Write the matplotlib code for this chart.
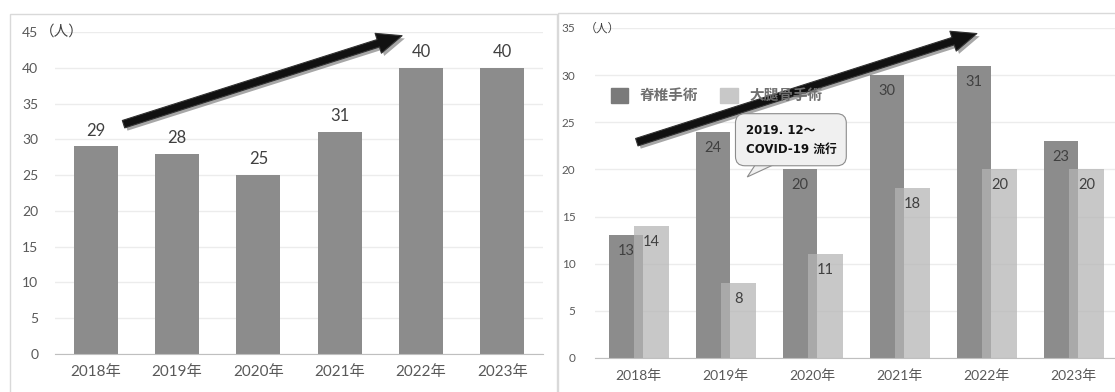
import numpy as np
import matplotlib.pyplot as plt
from matplotlib import patches
from matplotlib import patheffects as pe

plt.rcParams['font.family'] = ['Lato', 'Noto Sans CJK JP', 'DejaVu Sans']

# データ
years = ['2018年', '2019年', '2020年', '2021年', '2022年', '2023年']
total = [29, 28, 25, 31, 40, 40]
spine = [13, 24, 20, 30, 31, 23]   # 脊椎手術
femur = [14, 8, 11, 18, 20, 20]    # 大腿骨手術
left_yticks = list(range(0, 50, 5))
right_yticks = list(range(0, 40, 5))

tick_col = '#595959'
grid_col = '#ececec'
x = np.arange(len(years))

fig = plt.figure(figsize=(11.15, 3.92), dpi=100)

# パネルの枠
W, H = 1115, 392
fig.patches.append(patches.Rectangle((10 / W, -0.05), 547 / W, 1 - 14 / H + 0.05,
                                     transform=fig.transFigure, fill=False,
                                     ec='#d9d9d9', lw=1))
fig.patches.append(patches.Rectangle((558 / W, -0.05), 600 / W, 1 - 13 / H + 0.05,
                                     transform=fig.transFigure, fill=False,
                                     ec='#d9d9d9', lw=1))

# ---- 左: 合計 ----
ax1 = fig.add_axes([55 / W, 1 - 354 / H, 488 / W, 322 / H])
ax1.bar(x, total, width=0.54, color='#8c8c8c', zorder=2)
for xi, v in zip(x, total):
    ax1.annotate(str(v), (xi, v), xytext=(0, 11.5), textcoords='offset points',
                 ha='center', va='center', fontsize=12, color='#404040')
ax1.set_xlim(-0.5, 5.5)
ax1.set_ylim(0, 45)
ax1.set_yticks(left_yticks)
ax1.set_xticks(x)
ax1.set_xticklabels(years, fontsize=11, color=tick_col)
ax1.tick_params(axis='y', labelsize=10, labelcolor=tick_col, length=0, pad=12)
ax1.tick_params(axis='x', length=0, pad=8)
ax1.grid(axis='y', color=grid_col, lw=1, zorder=0)
ax1.set_axisbelow(True)
for s in ['top', 'right', 'left']:
    ax1.spines[s].set_visible(False)
ax1.spines['bottom'].set_color('#bfbfbf')
ax1.text(-0.69, 45, '（人）', fontsize=10.5, color='#404040', va='center', ha='left')

arrow_fx = [pe.SimplePatchShadow(offset=(2, -2), alpha=0.35), pe.Normal()]
ax1.annotate('', xy=(3.8, 44.6), xytext=(0.31, 32.0),
             arrowprops=dict(arrowstyle='simple,head_length=0.9,head_width=0.75,tail_width=0.28',
                             fc='#111111', ec='#333333', lw=0.8, mutation_scale=20,
                             path_effects=arrow_fx), zorder=5)

# ---- 右: 手術別 ----
ax2 = fig.add_axes([595 / W, 1 - 358 / H, 522 / W, 330 / H])
ax2.bar(x - 0.146, spine, width=0.385, color='#8c8c8c', zorder=2)
ax2.bar(x + 0.149, femur, width=0.395, color='#b4b4b4', alpha=0.73, zorder=3)
for xi, v in zip(x, spine):
    ax2.annotate(str(v), (xi - 0.146, v), xytext=(0, -11.5), textcoords='offset points',
                 ha='center', va='center', fontsize=10.5, color='#404040', zorder=6)
for xi, v in zip(x, femur):
    ax2.annotate(str(v), (xi + 0.149, v), xytext=(0, -11.5), textcoords='offset points',
                 ha='center', va='center', fontsize=10.5, color='#404040', zorder=6)
ax2.set_xlim(-0.5, 5.5)
ax2.set_ylim(0, 35)
ax2.set_yticks(right_yticks)
ax2.set_xticks(x)
ax2.set_xticklabels(years, fontsize=10, color=tick_col)
ax2.tick_params(axis='y', labelsize=8.5, labelcolor=tick_col, length=0, pad=14)
ax2.tick_params(axis='x', length=0, pad=8)
ax2.grid(axis='y', color=grid_col, lw=1, zorder=0)
ax2.set_axisbelow(True)
for s in ['top', 'right', 'left']:
    ax2.spines[s].set_visible(False)
ax2.spines['bottom'].set_color('#bfbfbf')
ax2.text(-0.42, 35, '（人）', fontsize=8.5, color='#404040', va='center', ha='center')

# 凡例
h1 = patches.Patch(color='#7a7a7a')
h2 = patches.Patch(color='#c8c8c8')
leg = ax2.legend([h1, h2], ['脊椎手術', '大腿骨手術'], loc='upper left',
                 bbox_to_anchor=(0.005, 0.86), ncol=2, frameon=False,
                 handlelength=1.2, handleheight=1.2, columnspacing=1.5,
                 prop=dict(family=['Noto Sans CJK JP'], weight='bold', size=10.5))
for t in leg.get_texts():
    t.set_color('#707070')

ax2.annotate('', xy=(3.92, 34.5), xytext=(-0.05, 22.8),
             arrowprops=dict(arrowstyle='simple,head_length=0.9,head_width=0.75,tail_width=0.28',
                             fc='#111111', ec='#333333', lw=0.8, mutation_scale=20,
                             path_effects=arrow_fx), zorder=5)

# 吹き出し
box_fc, box_ec = '#f0f0f0', '#8c8c8c'
ax2.add_patch(patches.Polygon([(1.40, 21.3), (1.25, 19.2), (1.74, 21.3)], closed=False,
                              fc=box_fc, ec=box_ec, lw=0.8, zorder=6.5))
ax2.text(1.23, 23.15, '2019. 12～\nCOVID-19 流行',
         ha='left', va='center', fontsize=8.5, fontweight='bold', color='#111111',
         family=['DejaVu Sans', 'Noto Sans CJK JP'], linespacing=1.6,
         bbox=dict(boxstyle='round,pad=0.85,rounding_size=0.8', fc=box_fc, ec=box_ec, lw=0.8),
         zorder=7)

fig.savefig('out.png', dpi=100)
